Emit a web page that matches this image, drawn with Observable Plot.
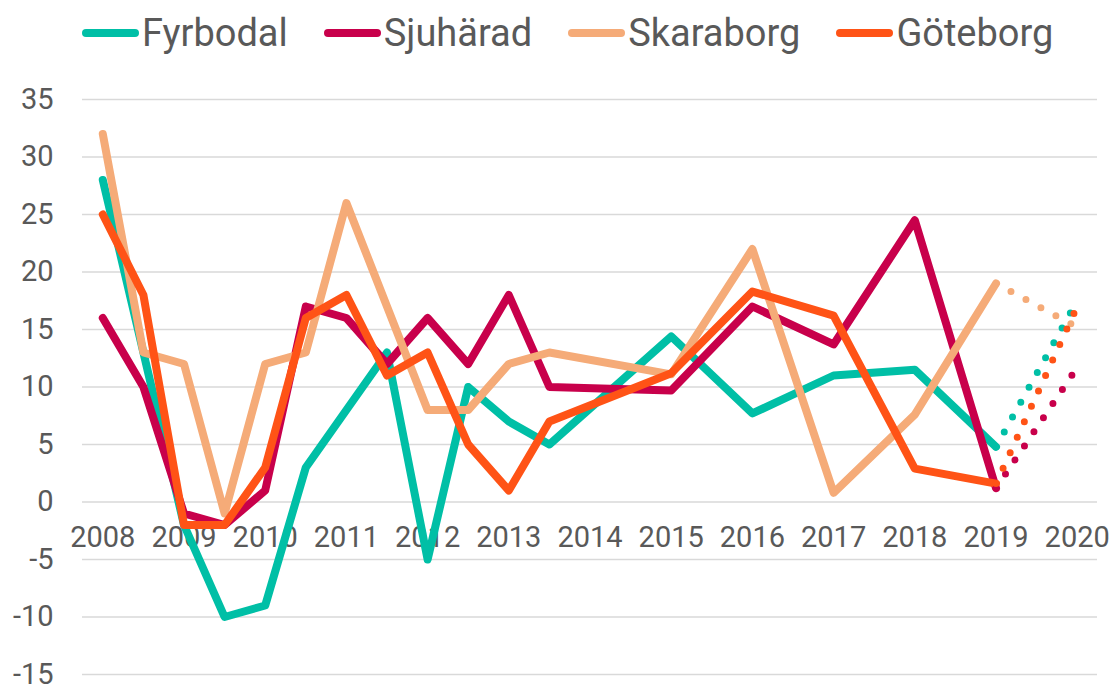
<!DOCTYPE html>
<html><head><meta charset="utf-8">
<script src="https://cdn.jsdelivr.net/npm/d3@7"></script>
<script src="https://cdn.jsdelivr.net/npm/@observablehq/plot@0.6"></script>
<style>
body{margin:0;background:#fff;font-family:Roboto,sans-serif;overflow:hidden;}
#legend{height:66px;display:flex;align-items:center;padding-left:82px;font-size:38px;color:#595959;box-sizing:border-box;}
.item{display:flex;align-items:center;margin-right:36px;}
.sw{width:57px;height:8px;border-radius:4px;margin-right:3px;}
#chart svg{overflow:visible;}
</style></head><body><div id="legend"></div><div id="chart"></div>
<script>
const periods = [2008,2008.5,2009,2009.5,2010,2010.5,2011,2011.5,2012,2012.5,2013,2013.5,2015,2016,2017,2018,2019];
const fyrbodal  = [28,13,-2,-10,-9,3,8,13,-5,10,7,5,14.4,7.7,11,11.5,4.8];
const sjuharad  = [16,10,-1,-2,1,17,16,12,16,12,18,10,9.7,17,13.7,24.5,1.2];
const skaraborg = [32,13,12,-1,12,13,26,17,8,8,12,13,11.1,22,0.8,7.6,19];
const goteborg  = [25,18,-2,-2,3,16,18,11,13,5,1,7,11.2,18.3,16.2,2.9,1.6];
const projectionYear = 2020;
const projected = [17.5,11.7,15.2,17];
const seriesNames = ["Fyrbodal","Sjuhärad","Skaraborg","Göteborg"];
const seriesColors = ["#00BFA6","#C8004B","#F5AB78","#FF5316"];
const yTicks = [-15,-10,-5,0,5,10,15,20,25,30,35];
const xLabels = [2008,2009,2010,2011,2012,2013,2014,2015,2016,2017,2018,2019,2020];

const seriesValues = [fyrbodal, sjuharad, skaraborg, goteborg];
const rows = [];
const projRows = [];
seriesNames.forEach((name, i) => {
  periods.forEach((p, j) => rows.push({series: name, period: p, value: seriesValues[i][j]}));
  const last = periods.length - 1;
  projRows.push({series: name, period: periods[last], value: seriesValues[i][last]});
  projRows.push({series: name, period: projectionYear, value: projected[i]});
});

const legend = document.getElementById("legend");
seriesNames.forEach((name, i) => {
  const it = document.createElement("div"); it.className = "item";
  const sw = document.createElement("div"); sw.className = "sw"; sw.style.background = seriesColors[i];
  const tx = document.createElement("span"); tx.textContent = name;
  it.appendChild(sw); it.appendChild(tx); legend.appendChild(it);
});

const chart = Plot.plot({
  width: 1113, height: 620,
  marginTop: 33, marginBottom: 12, marginLeft: 82, marginRight: 16,
  x: {domain: [2007.75, 2020.25], axis: null},
  y: {domain: [-15, 35], axis: null},
  color: {domain: seriesNames, range: seriesColors},
  style: {fontFamily: "Roboto, sans-serif", fontSize: "29px", color: "#595959", background: "#fff", overflow: "visible"},
  marks: [
    Plot.gridY(yTicks, {stroke: "#d9d9d9", strokeOpacity: 1, strokeWidth: 1.5}),
    Plot.axisY(yTicks, {tickSize: 0, tickPadding: 29, fontSize: 29, fill: "#595959", label: null, tickFormat: d => String(d)}),
    Plot.text(xLabels, {x: d => d, y: () => 0, text: d => String(d), dy: 36, fontSize: 29, fill: "#595959"}),
    Plot.line(rows, {x: "period", y: "value", z: "series", stroke: "series", strokeWidth: 8, strokeLinecap: "round", strokeLinejoin: "round"}),
    Plot.line(projRows, {x: "period", y: "value", z: "series", stroke: "series", strokeWidth: 7, strokeLinecap: "round", strokeDasharray: "0 17"})
  ]
});
document.getElementById("chart").appendChild(chart);
</script></body></html>
